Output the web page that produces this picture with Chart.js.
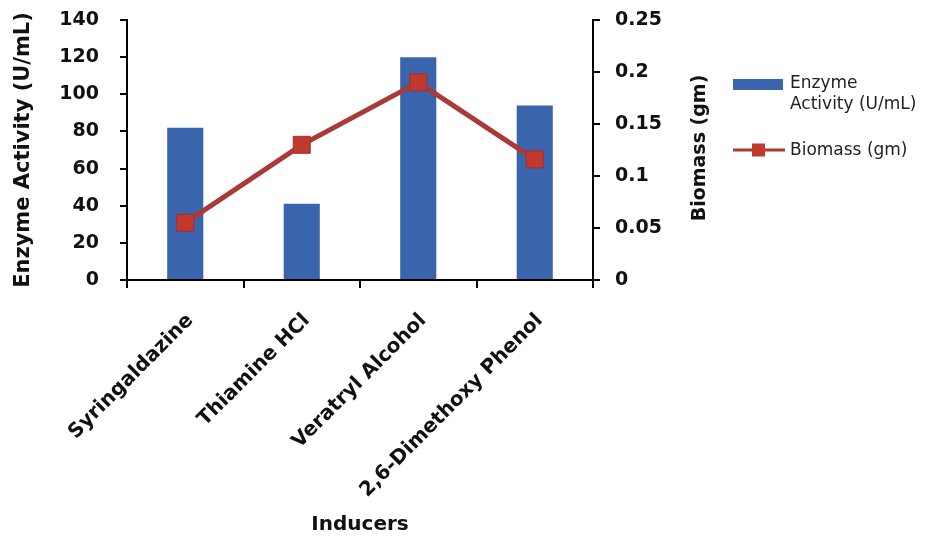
<!DOCTYPE html>
<html>
<head>
<meta charset="utf-8">
<script src="https://cdn.jsdelivr.net/npm/chart.js@4.4.1/dist/chart.umd.min.js"></script>
<style>
  html, body { margin: 0; padding: 0; background: #ffffff; }
  #wrap { width: 941px; height: 537px; position: relative; }
</style>
</head>
<body>
<div id="wrap"><canvas id="chart" width="941" height="537"></canvas></div>
<script>
// Inducers tested and the measured responses
const inducers = ['Syringaldazine', 'Thiamine HCl', 'Veratryl Alcohol', '2,6-Dimethoxy Phenol'];
const enzymeActivity = [82, 41, 120, 94];          // U/mL
const biomass = [0.055, 0.13, 0.19, 0.116];        // gm
const activityTicks = [0, 20, 40, 60, 80, 100, 120, 140];
const biomassTicks = [0, 0.05, 0.1, 0.15, 0.2, 0.25];

const activityLabel = 'Enzyme Activity (U/mL)';
const biomassLabel = 'Biomass (gm)';
const xTitle = 'Inducers';

const FONT = "'DejaVu Sans', sans-serif";
const INK = '#111111';
const BAR_BLUE = '#3a65ad';
const LINE_RED = '#a83a38';
const MARK_RED = '#c0392f';

// Right-hand axis title, read bottom-to-top
const rightTitle = {
  id: 'rightTitle',
  afterDraw(chart) {
    const s = chart.scales.y1;
    const ctx = chart.ctx;
    ctx.save();
    ctx.font = 'bold 19px ' + FONT;
    ctx.fillStyle = INK;
    ctx.textAlign = 'center';
    ctx.textBaseline = 'middle';
    ctx.translate(s.right - 3, (s.top + s.bottom) / 2 - 2);
    ctx.rotate(-Math.PI / 2);
    ctx.fillText(biomassLabel, 0, 0);
    ctx.restore();
  }
};

// Legend drawn at the right of the plot, with wrapped labels
const sideLegend = {
  id: 'sideLegend',
  afterDraw(chart) {
    const ctx = chart.ctx;
    const area = chart.chartArea;
    const x0 = area.right + 140;
    const textX = x0 + 57;
    const maxW = 132;
    const lineGap = 21;
    ctx.save();
    ctx.font = '17px ' + FONT;
    ctx.textBaseline = 'middle';
    ctx.textAlign = 'left';

    const wrap = (text) => {
      const words = text.split(' ');
      const lines = [];
      let cur = '';
      words.forEach(w => {
        const t = cur ? cur + ' ' + w : w;
        if (cur && ctx.measureText(t).width > maxW) { lines.push(cur); cur = w; }
        else cur = t;
      });
      if (cur) lines.push(cur);
      return lines;
    };

    const ds = chart.data.datasets;
    const bar = ds.find(d => d.type === 'bar');
    const line = ds.find(d => d.type === 'line');

    // bar entry
    let y = area.top + 64;
    ctx.fillStyle = bar.backgroundColor;
    ctx.fillRect(x0, y - 5, 50, 11);
    ctx.fillStyle = '#222222';
    wrap(bar.label).forEach((l, i) => ctx.fillText(l, textX, y + i * lineGap));

    // line entry
    y = area.top + 130;
    ctx.strokeStyle = line.borderColor;
    ctx.lineWidth = 3;
    ctx.beginPath();
    ctx.moveTo(x0, y);
    ctx.lineTo(x0 + 52, y);
    ctx.stroke();
    ctx.fillStyle = line.pointBackgroundColor;
    ctx.fillRect(x0 + 19, y - 6.5, 13, 13);
    ctx.fillStyle = '#222222';
    wrap(line.label).forEach((l, i) => ctx.fillText(l, textX, y + 1 + i * lineGap));
    ctx.restore();
  }
};

const tickFont = { family: FONT, size: 19, weight: 'bold' };

// vertical axes: fixed width, and only half a label of overhang at the ends
const fitVertical = (width) => (s) => {
  s.width = width;
  s.paddingTop = 12;
  s.paddingBottom = 12;
};

new Chart(document.getElementById('chart'), {
  data: {
    labels: inducers,
    datasets: [
      {
        type: 'bar',
        label: activityLabel,
        data: enzymeActivity,
        yAxisID: 'y',
        backgroundColor: BAR_BLUE,
        borderWidth: 0,
        categoryPercentage: 1.0,
        barPercentage: 0.31,
        order: 2
      },
      {
        type: 'line',
        label: biomassLabel,
        data: biomass,
        yAxisID: 'y1',
        borderColor: LINE_RED,
        borderWidth: 5,
        tension: 0,
        pointStyle: 'rect',
        pointRadius: 12,
        pointBackgroundColor: MARK_RED,
        pointBorderColor: '#9e302c',
        pointBorderWidth: 1,
        order: 1
      }
    ]
  },
  options: {
    responsive: false,
    animation: false,
    events: [],
    layout: { padding: { top: 20, right: 238, bottom: 0, left: 0 } },
    plugins: {
      legend: { display: false },
      tooltip: { enabled: false },
      title: { display: false }
    },
    scales: {
      x: {
        type: 'category',
        offset: true,
        border: { display: true, color: '#000', width: 2 },
        grid: {
          display: true, offset: true, drawOnChartArea: false, drawTicks: true,
          tickLength: 8, color: '#000', tickColor: '#000', lineWidth: 2, tickWidth: 2
        },
        ticks: {
          autoSkip: false, minRotation: 45, maxRotation: 45,
          padding: 21, labelOffset: 5,
          color: INK, font: { family: FONT, size: 20, weight: 'bold' }
        },
        title: {
          display: true, text: xTitle, color: INK,
          font: { family: FONT, size: 20, weight: 'bold' },
          padding: { top: 1, bottom: 0 }
        },
        afterFit(s) { s.height = 257; }
      },
      y: {
        type: 'linear',
        position: 'left',
        min: activityTicks[0],
        max: activityTicks[activityTicks.length - 1],
        afterBuildTicks(s) { s.ticks = activityTicks.map(v => ({ value: v })); },
        border: { display: true, color: '#000', width: 2 },
        grid: {
          display: true, drawOnChartArea: false, drawTicks: true,
          tickLength: 7, color: '#000', tickColor: '#000', lineWidth: 2, tickWidth: 2
        },
        ticks: {
          padding: 21, color: INK, font: tickFont,
          callback: v => String(v)
        },
        title: {
          display: true, text: activityLabel, color: INK,
          font: { family: FONT, size: 21, weight: 'bold' },
          padding: { top: 11, bottom: 0 }
        },
        afterFit: fitVertical(127)
      },
      y1: {
        type: 'linear',
        position: 'right',
        min: biomassTicks[0],
        max: biomassTicks[biomassTicks.length - 1],
        afterBuildTicks(s) { s.ticks = biomassTicks.map(v => ({ value: v })); },
        border: { display: true, color: '#000', width: 2 },
        grid: {
          display: true, drawOnChartArea: false, drawTicks: true,
          tickLength: 7, color: '#000', tickColor: '#000', lineWidth: 2, tickWidth: 2
        },
        ticks: {
          padding: 15, color: INK, font: tickFont,
          callback: v => String(v)
        },
        title: { display: false },
        afterFit: fitVertical(110)
      }
    }
  },
  plugins: [rightTitle, sideLegend]
});
</script>
</body>
</html>
